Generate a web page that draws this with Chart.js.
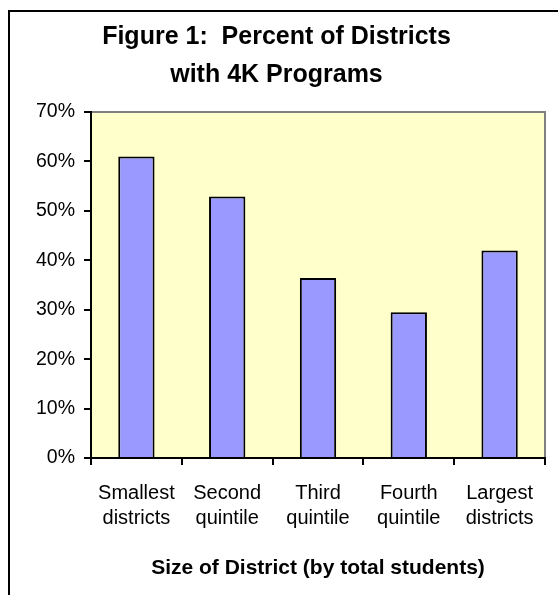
<!DOCTYPE html>
<html>
<head>
<meta charset="utf-8">
<script src="https://cdn.jsdelivr.net/npm/chart.js@4/dist/chart.umd.min.js"></script>
<style>
  body { margin: 0; background: #fff; }
  #wrap { position: relative; width: 558px; height: 595px; }
</style>
</head>
<body>
<div id="wrap"><canvas id="chart" width="558" height="595"></canvas></div>
<script>
const categories = [
    ["Smallest", "districts"],
    ["Second", "quintile"],
    ["Third", "quintile"],
    ["Fourth", "quintile"],
    ["Largest", "districts"],
];
const percentWith4K = [61, 52.9, 36.4, 29.5, 42];
const yTicks = [0, 10, 20, 30, 40, 50, 60, 70];

const FONT = "'Liberation Sans', Arial, sans-serif";

// plot background, gray top/right frame and the outer box
const framePlugin = {
    id: "frame",
    beforeDraw(chart) {
        const { ctx, chartArea: a } = chart;
        ctx.save();
        ctx.fillStyle = "#FFFFCC";
        ctx.fillRect(a.left, a.top, a.right - a.left, a.bottom - a.top);
        ctx.strokeStyle = "#808080";
        ctx.lineWidth = 2;
        ctx.beginPath();
        ctx.moveTo(a.left, a.top);
        ctx.lineTo(a.right, a.top);
        ctx.lineTo(a.right, a.bottom);
        ctx.stroke();
        // outer box (right and bottom edges lie outside the picture)
        ctx.strokeStyle = "#000";
        ctx.beginPath();
        ctx.moveTo(9, 595);
        ctx.lineTo(9, 11);
        ctx.lineTo(558, 11);
        ctx.stroke();
        ctx.restore();
    },
};

new Chart(document.getElementById("chart"), {
    type: "bar",
    data: {
        labels: categories,
        datasets: [{
            data: percentWith4K,
            backgroundColor: "#9999FF",
            borderColor: "#000",
            borderWidth: 2,
            barPercentage: 0.4,
            categoryPercentage: 1,
        }],
    },
    options: {
        responsive: false,
        animation: false,
        layout: { padding: { top: 12, right: 13, left: 8, bottom: 0 } },
        plugins: {
            legend: { display: false },
            tooltip: { enabled: false },
            title: {
                display: true,
                text: ["Figure 1:  Percent of Districts", "with 4K Programs"],
                color: "#000",
                font: { family: FONT, size: 25, weight: "bold", lineHeight: 1.52 },
                padding: { top: 6, bottom: 18 },
            },
        },
        scales: {
            x: {
                grid: { offset: true, drawOnChartArea: false, color: "#000", lineWidth: 2, tickLength: 7 },
                border: { color: "#000", width: 2 },
                ticks: {
                    color: "#000",
                    font: { family: FONT, size: 20, lineHeight: 1.25 },
                    padding: 16,
                    maxRotation: 0,
                    autoSkip: false,
                },
                title: {
                    display: true,
                    text: "Size of District (by total students)",
                    color: "#000",
                    font: { family: FONT, size: 21, weight: "bold", lineHeight: 1.2 },
                    padding: { top: 0, bottom: 14 },
                },
                afterFit(scale) { scale.height = 137; },
            },
            y: {
                min: 0,
                max: 70,
                afterBuildTicks(scale) { scale.ticks = yTicks.map(v => ({ value: v })); },
                grid: { drawOnChartArea: false, color: "#000", lineWidth: 2, tickLength: 7 },
                border: { color: "#000", width: 2 },
                ticks: {
                    color: "#000",
                    font: { family: FONT, size: 19.5 },
                    padding: 9,
                    callback: v => v + "%",
                },
                afterFit(scale) { scale.width = 83; },
            },
        },
    },
    plugins: [framePlugin],
});
</script>
</body>
</html>
